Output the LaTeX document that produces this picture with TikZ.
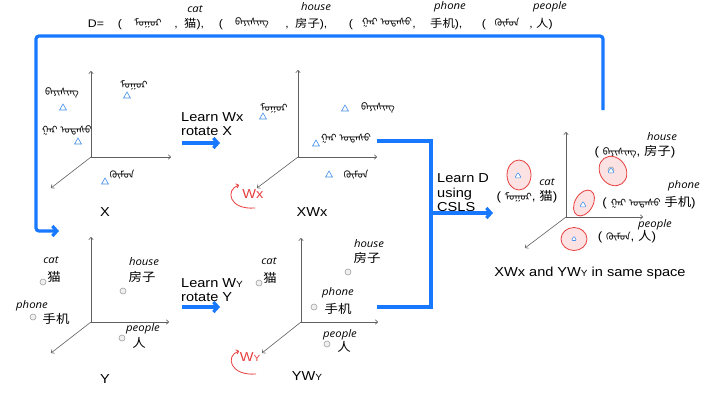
\documentclass[tikz,border=0pt]{standalone}
\usepackage{fontspec}
\setmainfont{Liberation Sans}[FakeStretch=1.12]
\newfontfamily\cjk{Noto Sans CJK SC}[FakeStretch=1.12]
\newfontfamily\lab{Open Sans}[FakeStretch=1.08]
\newfontfamily\mong{Noto Sans Mongolian}[Script=Mongolian]
\usetikzlibrary{arrows.meta,shapes.geometric}

% Mongolian words
\newcommand\mgcat{{\mong ᠮᠤᠭᠤᠷ}}
\newcommand\mghouse{{\mong ᠪᠠᠶᠢᠰᠢᠩ}}
\newcommand\mgphone{{\mong ᠭᠠᠷ ᠤᠲᠠᠰᠤ}}
\newcommand\mgpeople{{\mong ᠬᠦᠮᠦᠨ}}
% small capital used in W_Y
\newcommand\tinycap[1]{{\fontsize{9}{9}\selectfont #1}}

% three axes from one origin
\newcommand\axesat[7]{%
  \coordinate (#1-o) at (#2,#3);
  \coordinate (#1-u) at (#2,#4);
  \coordinate (#1-r) at (#5,#3);
  \coordinate (#1-d) at (#6,#7);
  \draw[axis] (#1-o) -- (#1-u);
  \draw[axis] (#1-o) -- (#1-r);
  \draw[axis] (#1-o) -- (#1-d);}

\definecolor{flowblue}{RGB}{24,120,255}
\definecolor{triblue}{RGB}{70,145,235}
\definecolor{axisgray}{RGB}{95,95,95}
\definecolor{hired}{RGB}{232,62,62}
\definecolor{pinkfill}{RGB}{252,226,226}

\tikzset{
  axis/.style={draw=axisgray, line width=0.6pt, -{To[length=3pt,width=5pt]}},
  blueline/.style={draw=flowblue, line width=3.2pt},
  bluearrow/.style={blueline, -{Straight Barb[length=4.5pt,width=10pt]}},
  redarrow/.style={draw=hired, line width=0.8pt, -{To[length=3pt,width=5pt]}},
  tri/.style={regular polygon, regular polygon sides=3, draw=triblue, line width=0.6pt,
    inner sep=0pt, minimum size=8pt},
  rtri/.style={tri, minimum size=7.5pt, rounded corners=1.2pt, fill=white},
  dot/.style={circle, draw=gray!75, fill=gray!12, line width=0.6pt, inner sep=0pt, minimum size=6pt},
  halo/.style={ellipse, draw=hired, fill=pinkfill, line width=0.8pt, inner sep=0pt},
  mg/.style={font=\mong\fontsize{10}{10}\selectfont, inner sep=0pt},
  en/.style={font=\lab\itshape\fontsize{10.5}{10.5}\selectfont, inner sep=0pt},
  zh/.style={font=\cjk\fontsize{12}{12}\selectfont, inner sep=0pt},
  txt/.style={font=\fontsize{13}{14.5}\selectfont, inner sep=0pt, align=left},
  topt/.style={font=\fontsize{11}{11}\selectfont, inner sep=0pt},
  fl/.style={font=\fontsize{12}{12}\selectfont, inner sep=0pt},
  redtxt/.style={font=\fontsize{13}{13}\selectfont, text=hired, inner sep=0pt},
}

\begin{document}
\begin{tikzpicture}[x=1pt,y=-1pt]
\fill[white] (0,0) rectangle (702,392);
\useasboundingbox (0,0) rectangle (702,392);

% ---------- dictionary line ----------
\node[topt, anchor=base] (t-d) at (96,27) {D=};
\node[topt, anchor=base] (t-p1) at (120,27) {(};
\node[mg] (t-m1) at (148,23) {\mgcat};
\node[topt, anchor=base] (t-c1) at (176,27) {,};
\node[topt, anchor=base west] (t-z1) at (184,27) {{\cjk 猫}),};
\node[topt, anchor=base] (t-p2) at (221,27) {(};
\node[mg] (t-m2) at (252,23) {\mghouse};
\node[topt, anchor=base] (t-c2) at (287,27) {,};
\node[topt, anchor=base west] (t-z2) at (295,27) {{\cjk 房子}),};
\node[topt, anchor=base] (t-p3) at (351,27) {(};
\node[mg] (t-m3) at (387,23) {\mgphone};
\node[topt, anchor=base] (t-c3) at (414,27) {,};
\node[topt, anchor=base west] (t-z3) at (430,27) {{\cjk 手机}),};
\node[topt, anchor=base] (t-p4) at (484,27) {(};
\node[mg] (t-m4) at (507,23) {\mgpeople};
\node[topt, anchor=base] (t-c4) at (531,27) {,};
\node[topt, anchor=base west] (t-z4) at (536,27) {{\cjk 人})};
\node[en] (t-e1) at (195,9) {cat};
\node[en] (t-e2) at (316,7) {house};
\node[en] (t-e3) at (450,7) {phone};
\node[en] (t-e4) at (550,7) {people};

% ---------- space X ----------
\axesat{px}{91}{157}{71}{171}{51}{188}
\node[tri] (x-cat) at (127,96) {};
\node[mg] (x-catl) at (134,85) {\mgcat};
\node[tri] (x-house) at (63,108) {};
\node[mg] (x-housel) at (62,93) {\mghouse};
\node[tri] (x-phone) at (78,142) {};
\node[mg] (x-phonel) at (67,131) {\mgphone};
\node[tri] (x-people) at (105,182) {};
\node[mg] (x-peoplel) at (122,175) {\mgpeople};
\node[txt] (x-lab) at (105,212) {X};

% ---------- space XWx ----------
\axesat{pxw}{298}{157}{70}{377}{257}{188}
\node[tri] (xw-cat) at (263,117) {};
\node[mg] (xw-catl) at (274,108) {\mgcat};
\node[tri] (xw-house) at (345,109) {};
\node[mg] (xw-housel) at (378,108) {\mghouse};
\node[tri] (xw-phone) at (316,144) {};
\node[mg] (xw-phonel) at (346,139) {\mgphone};
\node[tri] (xw-people) at (329,175) {};
\node[mg] (xw-peoplel) at (356,175) {\mgpeople};
\node[txt] (xw-lab) at (312,212) {XWx};
\node[redtxt] (wx) at (253,194) {Wx};
\coordinate (wx-s) at (255,208);
\coordinate (wx-e) at (239,185);
\draw[redarrow] (wx-s) .. controls (229,210) and (225,190) .. (wx-e);

% ---------- space Y ----------
\axesat{py}{91}{322}{237}{169}{51}{353}
\node[dot] (y-cat) at (43,282) {};
\node[en] (y-cate) at (51,260) {cat};
\node[zh] (y-catz) at (54,277) {猫};
\node[dot] (y-house) at (123,291) {};
\node[en] (y-housee) at (144,262) {house};
\node[zh] (y-housez) at (142,277) {房子};
\node[dot] (y-phone) at (33,317) {};
\node[en] (y-phonee) at (32,306) {phone};
\node[zh] (y-phonez) at (56,319) {手机};
\node[dot] (y-people) at (122,338) {};
\node[en] (y-peoplee) at (143,329) {people};
\node[zh] (y-peoplez) at (139,343) {人};
\node[txt] (y-lab) at (105,379) {Y};

% ---------- space YWy ----------
\axesat{pyw}{301}{322}{238}{378}{262}{353}
\node[dot] (yw-cat) at (259,283) {};
\node[en] (yw-cate) at (269,261) {cat};
\node[zh] (yw-catz) at (270,278) {猫};
\node[dot] (yw-house) at (348,272) {};
\node[en] (yw-housee) at (369,244) {house};
\node[zh] (yw-housez) at (367,258) {房子};
\node[dot] (yw-phone) at (314,307) {};
\node[en] (yw-phonee) at (338,293) {phone};
\node[zh] (yw-phonez) at (338,309) {手机};
\node[dot] (yw-people) at (327,344) {};
\node[en] (yw-peoplee) at (340,335) {people};
\node[zh] (yw-peoplez) at (344,347) {人};
\node[txt] (yw-lab) at (307,376) {YW\tinycap{Y}};
\node[redtxt] (wy) at (250,357) {W\tinycap{Y}};
\coordinate (wy-s) at (256,374);
\coordinate (wy-e) at (239,351);
\draw[redarrow] (wy-s) .. controls (230,376) and (225,356) .. (wy-e);

% ---------- shared space ----------
\axesat{pf}{566}{217}{132}{643}{525}{248}
\node[halo, minimum width=24pt, minimum height=30pt] (f-cat) at (519,175) {};
\node[rtri] (f-catm) at (518,176) {};
\node[halo, minimum width=26pt, minimum height=31pt, rotate=35] (f-house) at (613,171) {};
\node[dot] (f-housed) at (611,170) {};
\node[rtri] (f-housem) at (611,171) {};
\node[halo, minimum width=18pt, minimum height=28pt, rotate=-30] (f-phone) at (584,203) {};
\node[rtri] (f-phonem) at (583,205) {};
\node[halo, minimum width=26pt, minimum height=23pt] (f-people) at (574,239) {};
\node[rtri, minimum size=6pt] (f-peoplem) at (574,239) {};

\node[en] (f-cate) at (547,182) {cat};
\node[fl] (f-catl) at (527,197) {( {\fontsize{10}{10}\selectfont\mgcat}, {\cjk 猫})};
\node[en] (f-housee) at (662,137) {house};
\node[fl] (f-housel) at (635,152) {( {\fontsize{10}{10}\selectfont\mghouse}, {\cjk 房子})};
\node[en] (f-phonee) at (684,186) {phone};
\node[fl] (f-phonel) at (649,203) {( {\fontsize{10}{10}\selectfont\mgphone} {\cjk 手机})};
\node[en] (f-peoplee) at (655,225) {people};
\node[fl] (f-peoplel) at (627,237) {( {\fontsize{10}{10}\selectfont\mgpeople}, {\cjk 人})};
\node[txt] (f-lab) at (590,273) {XWx and YW\tinycap{Y} in same space};

% ---------- steps ----------
\node[txt, anchor=west] (step-x) at (181,124) {Learn Wx\\rotate X};
\coordinate (ax-s) at (182,143);
\coordinate (ax-e) at (220,143);
\draw[bluearrow] (ax-s) -- (ax-e);

\node[txt, anchor=west] (step-y) at (181,290) {Learn W\tinycap{Y}\\rotate Y};
\coordinate (ay-s) at (182,307);
\coordinate (ay-e) at (220,307);
\draw[bluearrow] (ay-s) -- (ay-e);

\node[txt, anchor=west] (step-d) at (437,193) {Learn D\\using\\CSLS};
\coordinate (xw-out) at (377,141);
\coordinate (bus-t) at (431,141);
\coordinate (bus-b) at (431,307);
\coordinate (yw-out) at (377,307);
\coordinate (bus-m) at (431,213);
\coordinate (csls-e) at (493,213);
\draw[blueline] (xw-out) -- (bus-t) -- (bus-b) -- (yw-out);
\draw[bluearrow] (bus-m) -- (csls-e);

% ---------- feedback loop ----------
\coordinate (loop-s) at (603,110);
\coordinate (loop-tr) at (603,36);
\coordinate (loop-tl) at (36,36);
\coordinate (loop-e) at (59,231);
\draw[bluearrow, rounded corners=3pt] (loop-s) -- (loop-tr) -- (loop-tl) |- (loop-e);
\end{tikzpicture}
\end{document}
